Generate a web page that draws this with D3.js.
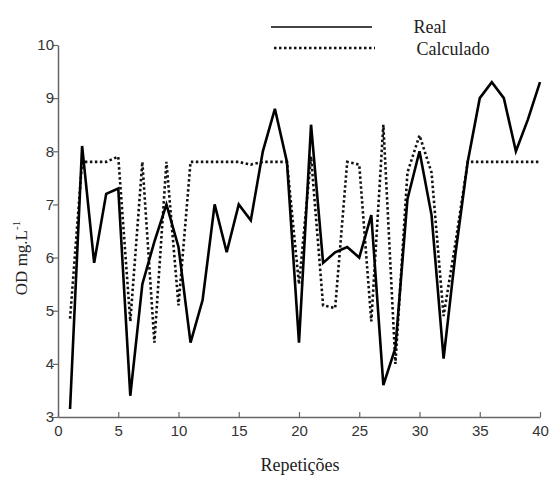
<!DOCTYPE html>
<html><head><meta charset="utf-8">
<script src="https://cdn.jsdelivr.net/npm/d3@7"></script>
<style>body{margin:0;background:#fff}</style>
</head><body>
<svg id="c" width="552" height="480"></svg>
<script>
const repeticoes = d3.range(1, 41);
const real = [3.15,8.1,5.9,7.2,7.3,3.4,5.5,6.3,7.0,6.2,4.4,5.2,7.0,6.1,7.0,6.7,8.0,8.8,7.8,4.4,8.5,5.9,6.1,6.2,6.0,6.8,3.6,4.3,7.1,8.0,6.8,4.1,6.1,7.8,9.0,9.3,9.0,8.0,8.6,9.3];
const calculado = [4.85,7.8,7.8,7.8,7.9,4.8,7.8,4.4,7.8,5.1,7.8,7.8,7.8,7.8,7.8,7.75,7.8,7.8,7.8,5.5,7.9,5.1,5.05,7.8,7.75,4.8,8.5,4.0,7.6,8.3,7.6,4.9,6.3,7.8,7.8,7.8,7.8,7.8,7.8,7.8];
const xTicks = [0,5,10,15,20,25,30,35,40];
const yTicks = [3,4,5,6,7,8,9,10];
const seriesNames = ["Real","Calculado"];

const svg = d3.select("#c");
const x = d3.scaleLinear().domain([0,40]).range([58,540]);
const y = d3.scaleLinear().domain([3,10]).range([417,45]);

const axisColor = "#666";
const gx = svg.append("g").attr("transform","translate(0,417)")
  .call(d3.axisBottom(x).tickValues(xTicks).tickFormat(d3.format("d")).tickSizeInner(-5).tickSizeOuter(0).tickPadding(8));
const gy = svg.append("g").attr("transform","translate(58,0)")
  .call(d3.axisLeft(y).tickValues(yTicks).tickFormat(d3.format("d")).tickSizeInner(5).tickSizeOuter(0).tickPadding(-1));
[gx,gy].forEach(g=>{
  g.select(".domain").attr("stroke",axisColor).attr("stroke-width",1.5);
  g.selectAll(".tick line").attr("stroke",axisColor).attr("stroke-width",1.2);
  g.selectAll("text").attr("font-family","Liberation Sans, Arial, sans-serif").attr("font-size",15).attr("fill","#333");
});

const line = d3.line().x((d,i)=>x(repeticoes[i])).y(d=>y(d));
svg.append("path").datum(calculado).attr("d",line).attr("fill","none")
  .attr("stroke","#111").attr("stroke-width",2.6).attr("stroke-dasharray","2.5,2.5");
svg.append("path").datum(real).attr("d",line).attr("fill","none")
  .attr("stroke","#000").attr("stroke-width",2.6).attr("stroke-linejoin","miter");

// legend
const lg = svg.append("g");
lg.append("line").attr("x1",271).attr("x2",372).attr("y1",27).attr("y2",27).attr("stroke","#444").attr("stroke-width",2);
lg.append("line").attr("x1",274).attr("x2",375).attr("y1",48).attr("y2",48).attr("stroke","#111").attr("stroke-width",2.5).attr("stroke-dasharray","2.5,2.5");
lg.append("text").attr("x",430).attr("y",33).attr("text-anchor","middle").attr("font-family","Liberation Serif, Times New Roman, serif").attr("font-size",18).attr("fill","#222").text(seriesNames[0]);
lg.append("text").attr("x",453).attr("y",55).attr("text-anchor","middle").attr("font-family","Liberation Serif, Times New Roman, serif").attr("font-size",18).attr("fill","#222").text(seriesNames[1]);

// axis labels
svg.append("text").attr("x",300).attr("y",471).attr("text-anchor","middle").attr("font-family","Liberation Serif, Times New Roman, serif").attr("font-size",18).attr("fill","#222").text("Repetições");
const yl = svg.append("text").attr("transform","translate(27,258) rotate(-90)").attr("text-anchor","middle")
  .attr("font-family","Liberation Serif, Times New Roman, serif").attr("font-size",17).attr("fill","#222");
yl.append("tspan").text("OD mg.L");
yl.append("tspan").attr("dy",-7).attr("font-size",11).text("-1");
</script>
</body></html>
